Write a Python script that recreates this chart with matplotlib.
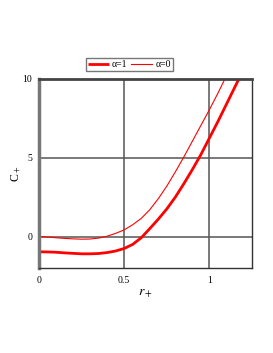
import matplotlib
matplotlib.use("Agg")
import matplotlib.pyplot as plt

# r+ sample points and heat capacity values
r_plus = [0.0, 0.05, 0.1, 0.15, 0.2, 0.25, 0.3, 0.35, 0.4, 0.45, 0.5, 0.55,
          0.6, 0.65, 0.7, 0.75, 0.8, 0.85, 0.9, 0.95, 1.0, 1.05, 1.1, 1.15, 1.2]
c_alpha1 = [-0.97, -0.98, -1.0, -1.04, -1.07, -1.1, -1.1, -1.08, -1.02, -0.92,
            -0.76, -0.5, -0.08, 0.5, 1.1, 1.75, 2.5, 3.35, 4.25, 5.2, 6.25,
            7.3, 8.4, 9.5, 10.6]
c_alpha0 = [0.0, -0.03, -0.08, -0.12, -0.15, -0.17, -0.16, -0.1, 0.02, 0.2,
            0.42, 0.75, 1.15, 1.7, 2.4, 3.2, 4.1, 5.05, 6.05, 7.05, 8.05,
            9.1, 10.2, 11.3, 12.4]

xticks = [0, 0.5, 1]
xtick_labels = ["0", "0.5", "1"]
yticks = [0, 5, 10]
ytick_labels = ["0", "5", "10"]

plt.rcParams["font.family"] = ["Liberation Serif", "DejaVu Serif"]
plt.rcParams["mathtext.fontset"] = "stix"

fig = plt.figure(figsize=(2.73, 3.53), dpi=100)
ax = fig.add_axes([39 / 273, 85 / 353, 213 / 273, 189 / 353])

ax.plot(r_plus, c_alpha1, color="#ff0000", linewidth=2.0, label="α=1",
        solid_capstyle="butt")
ax.plot(r_plus, c_alpha0, color="#ff0000", linewidth=0.8, label="α=0")

ax.set_xlim(0, 1.25)
ax.set_ylim(-2, 10)
ax.set_xticks(xticks)
ax.set_xticklabels(xtick_labels)
ax.set_yticks(yticks)
ax.set_yticklabels(ytick_labels)
ax.tick_params(length=0, labelsize=7, pad=5)
ax.tick_params(axis="x", pad=6)

ax.grid(True, color="#555555", linewidth=1.1)
ax.set_axisbelow(True)

for side in ["right", "bottom"]:
    ax.spines[side].set_color("#333333")
    ax.spines[side].set_linewidth(1.0)
ax.spines["top"].set_color("#444444")
ax.spines["top"].set_linewidth(2.0)
ax.spines["left"].set_color("#777777")
ax.spines["left"].set_linewidth(2.5)

ax.set_xlabel("$r_+$", fontsize=10, labelpad=1)
ax.set_ylabel("C$_+$", fontsize=8.5)
ax.yaxis.set_label_coords(-0.075, 0.5)

ax.legend(loc="lower center", bbox_to_anchor=(0.425, 1.04), ncol=2,
          fontsize=7, frameon=True, fancybox=False, edgecolor="#555555",
          handlelength=2.15, handletextpad=0.3, columnspacing=0.4,
          borderpad=0.25, borderaxespad=0)

plt.savefig("out.png", dpi=100)
